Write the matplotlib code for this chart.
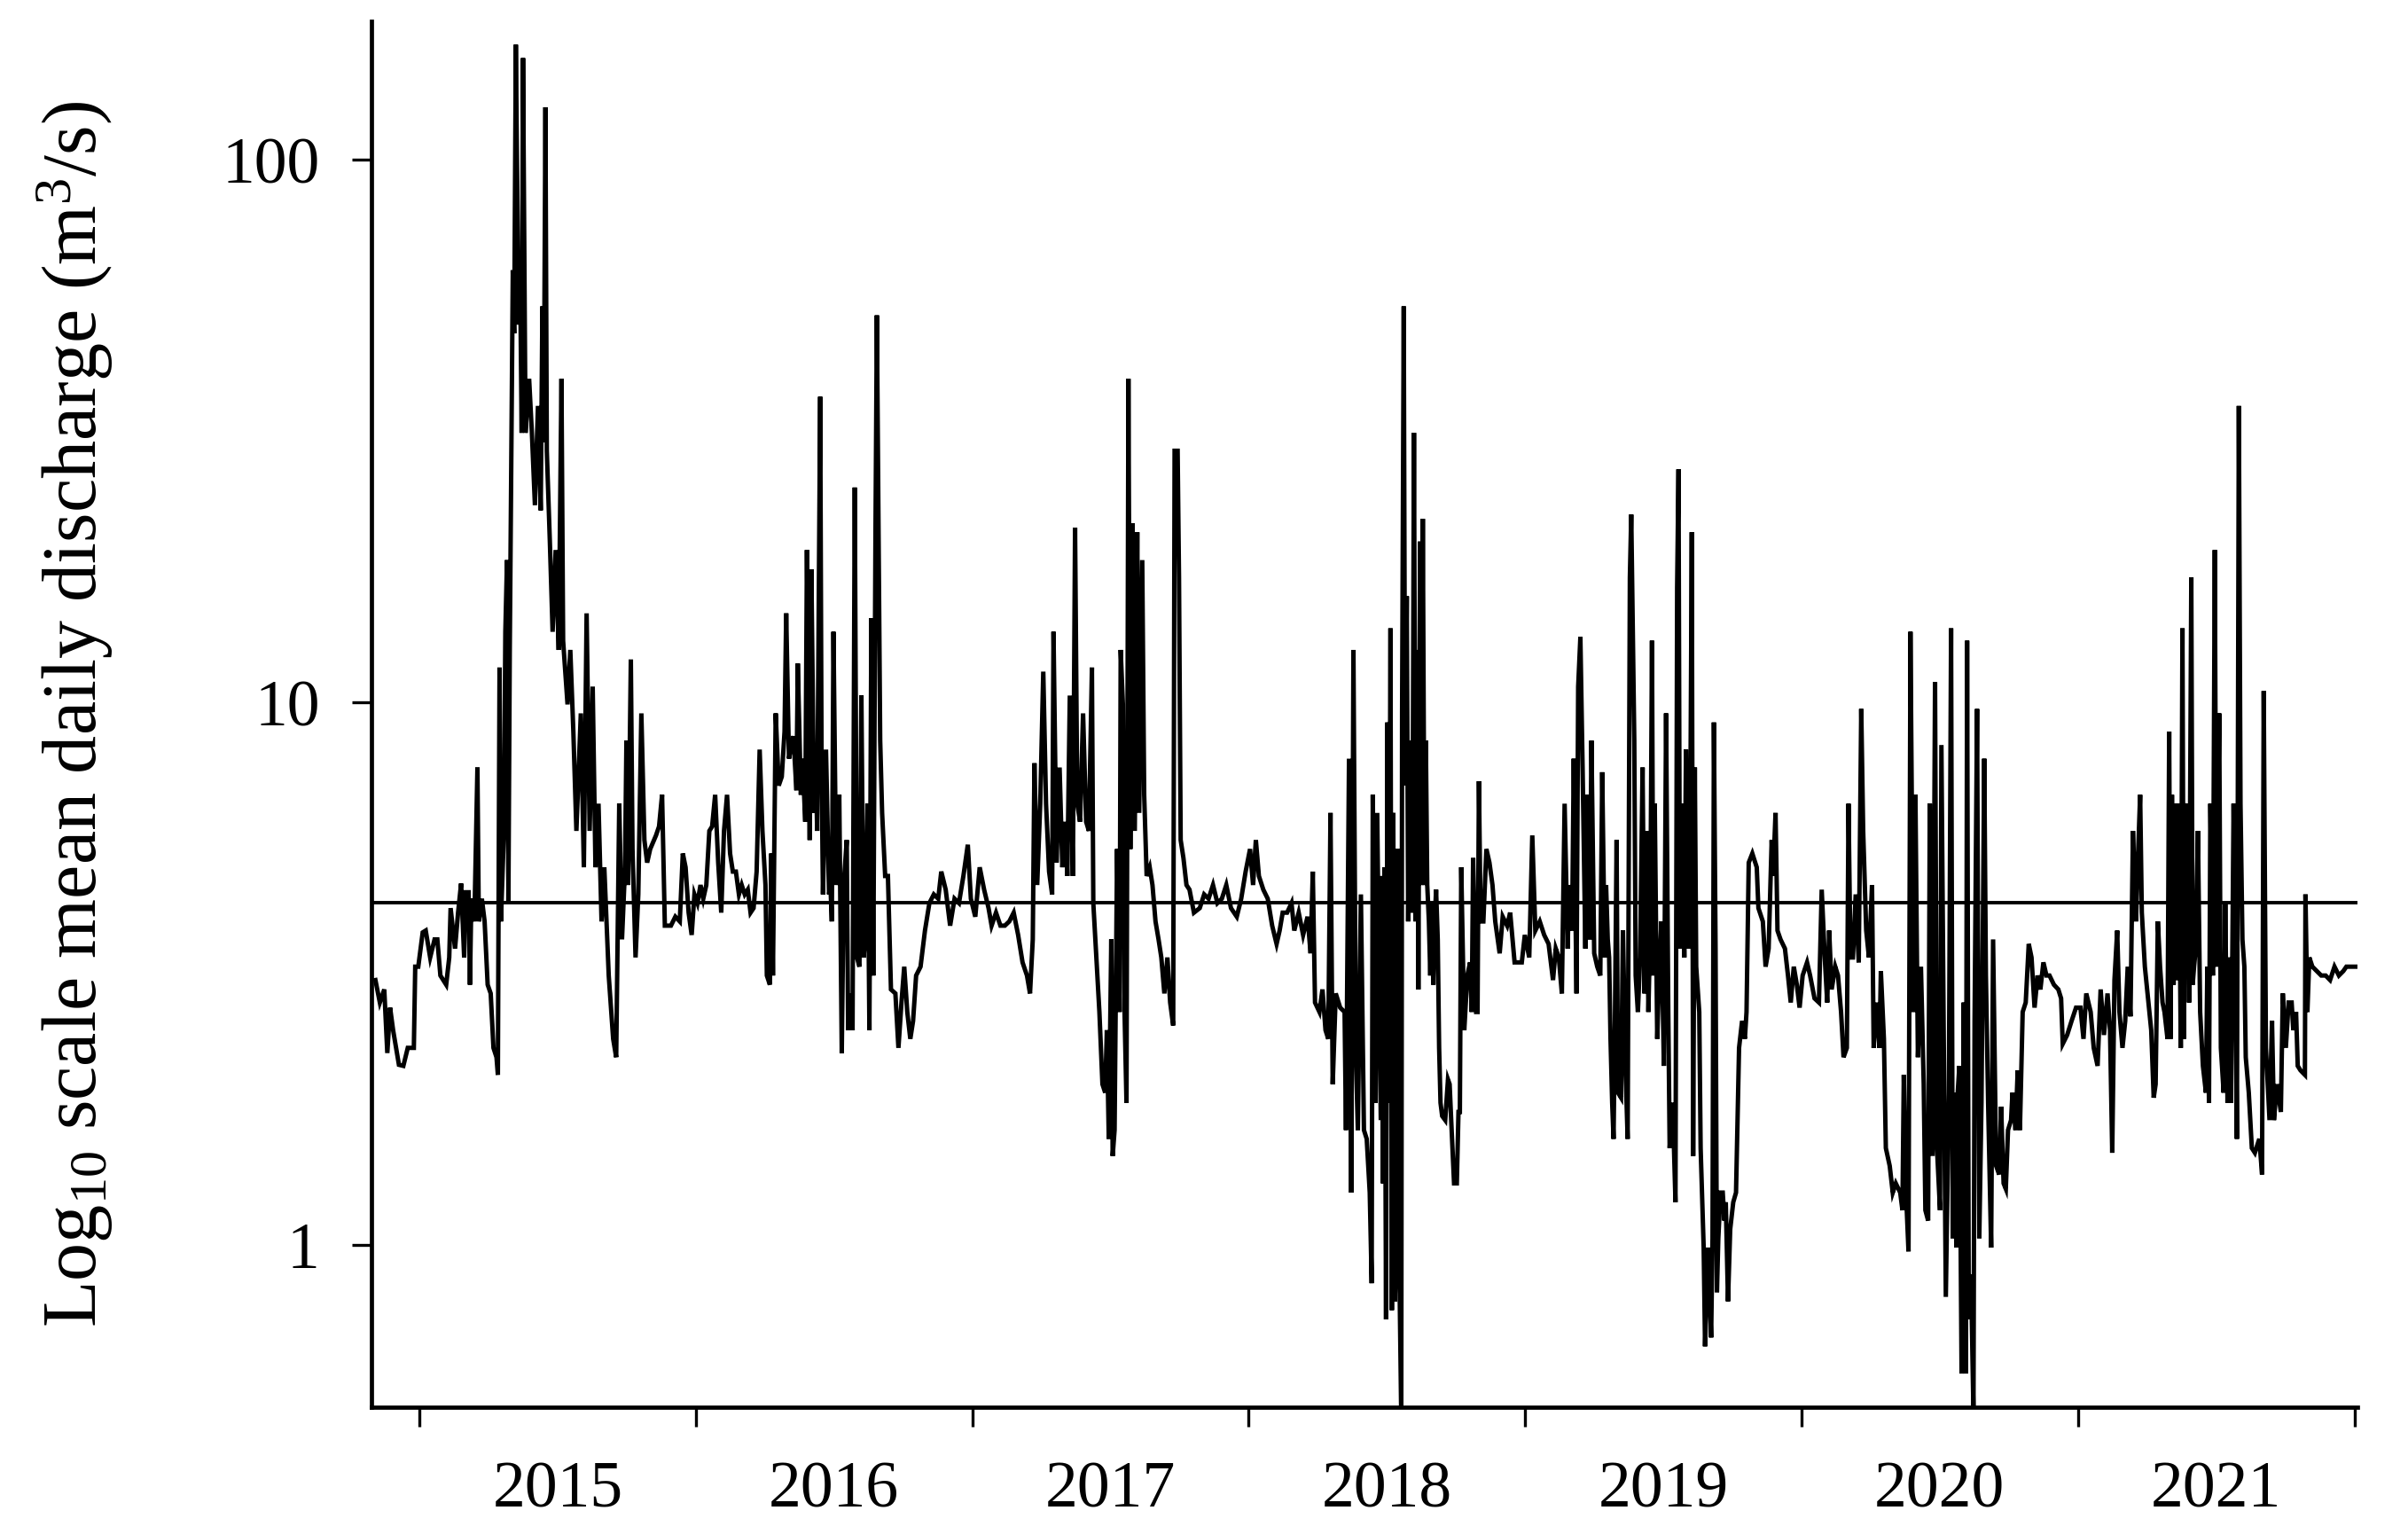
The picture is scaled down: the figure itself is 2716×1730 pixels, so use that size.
import matplotlib

matplotlib.use("Agg")
import matplotlib.pyplot as plt  # noqa: E402
from matplotlib.ticker import NullLocator  # noqa: E402

plt.rcParams["font.family"] = ["Liberation Serif", "DejaVu Serif"]
plt.rcParams["mathtext.fontset"] = "custom"
plt.rcParams["mathtext.rm"] = "Liberation Serif"
plt.rcParams["mathtext.default"] = "regular"

# (decimal year, mean daily discharge m3/s)
daily_flow = [
    (2014.841, 3.08), (2014.857, 2.80), (2014.873, 2.96), (2014.884, 2.26), (2014.894, 2.74),
    (2014.905, 2.49), (2014.926, 2.15), (2014.942, 2.14), (2014.958, 2.31), (2014.980, 2.31),
    (2014.985, 3.26), (2014.996, 3.26), (2015.012, 3.77), (2015.023, 3.80), (2015.039, 3.39),
    (2015.055, 3.66), (2015.065, 3.66), (2015.076, 3.14), (2015.097, 3.02), (2015.108, 3.39),
    (2015.113, 4.18), (2015.129, 3.52), (2015.140, 4.10), (2015.151, 4.64), (2015.162, 3.39),
    (2015.167, 4.47), (2015.178, 4.47), (2015.183, 3.02), (2015.188, 4.35), (2015.199, 3.95),
    (2015.210, 7.59), (2015.215, 3.95), (2015.226, 4.35), (2015.236, 3.95), (2015.247, 3.02),
    (2015.258, 2.91), (2015.268, 2.31), (2015.279, 2.22), (2015.284, 2.06), (2015.290, 11.6),
    (2015.295, 3.95), (2015.306, 5.80), (2015.311, 13.5), (2015.317, 18.3), (2015.322, 4.27),
    (2015.327, 12.5), (2015.338, 62.6), (2015.343, 47.9), (2015.349, 163), (2015.359, 49.7),
    (2015.365, 58.0), (2015.370, 31.4), (2015.375, 154), (2015.384, 31.4), (2015.397, 39.5),
    (2015.407, 31.4), (2015.418, 23.1), (2015.429, 35.2), (2015.439, 22.6), (2015.445, 53.7),
    (2015.450, 30.2), (2015.456, 125), (2015.461, 29.1), (2015.472, 19.8), (2015.482, 13.5),
    (2015.493, 19.1), (2015.504, 12.5), (2015.514, 39.5), (2015.520, 13.0), (2015.536, 9.92),
    (2015.546, 12.5), (2015.557, 8.84), (2015.568, 5.80), (2015.584, 9.55), (2015.595, 4.97),
    (2015.605, 14.6), (2015.616, 5.80), (2015.627, 10.7), (2015.637, 4.97), (2015.648, 6.51),
    (2015.659, 3.95), (2015.669, 4.97), (2015.685, 3.14), (2015.701, 2.40), (2015.712, 2.22),
    (2015.723, 6.51), (2015.733, 3.66), (2015.744, 4.97), (2015.749, 8.51), (2015.755, 4.61),
    (2015.765, 12.0), (2015.771, 5.37), (2015.782, 3.39), (2015.792, 4.43), (2015.803, 9.55),
    (2015.814, 5.58), (2015.824, 5.07), (2015.835, 5.37), (2015.856, 5.69), (2015.867, 5.91),
    (2015.878, 6.76), (2015.888, 3.88), (2015.910, 3.88), (2015.926, 4.03), (2015.942, 3.95),
    (2015.953, 5.27), (2015.963, 4.97), (2015.974, 4.10), (2015.985, 3.73), (2015.995, 4.43),
    (2016.006, 4.27), (2016.017, 4.61), (2016.027, 4.35), (2016.038, 4.61), (2016.049, 5.80),
    (2016.059, 5.91), (2016.070, 6.76), (2016.081, 5.07), (2016.092, 4.10), (2016.102, 5.80),
    (2016.113, 6.76), (2016.124, 5.27), (2016.134, 4.88), (2016.145, 4.88), (2016.156, 4.43),
    (2016.166, 4.61), (2016.177, 4.43), (2016.188, 4.52), (2016.198, 4.10), (2016.209, 4.18),
    (2016.220, 4.88), (2016.231, 8.19), (2016.241, 5.80), (2016.252, 4.61), (2016.257, 3.14),
    (2016.268, 3.02), (2016.273, 5.27), (2016.279, 3.14), (2016.289, 9.55), (2016.300, 7.03),
    (2016.311, 7.30), (2016.321, 8.84), (2016.327, 14.6), (2016.337, 7.88), (2016.343, 8.19),
    (2016.353, 8.67), (2016.364, 6.89), (2016.369, 11.8), (2016.380, 6.76), (2016.386, 7.88),
    (2016.396, 6.03), (2016.402, 19.1), (2016.412, 5.58), (2016.418, 17.6), (2016.428, 6.26),
    (2016.434, 7.88), (2016.439, 5.80), (2016.450, 36.6), (2016.455, 7.59), (2016.460, 4.43),
    (2016.471, 8.19), (2016.482, 4.43), (2016.487, 4.61), (2016.492, 3.95), (2016.498, 13.5),
    (2016.508, 4.61), (2016.519, 6.76), (2016.528, 2.26), (2016.535, 4.61), (2016.546, 5.58),
    (2016.551, 2.49), (2016.562, 2.91), (2016.567, 2.49), (2016.575, 24.9), (2016.583, 3.39),
    (2016.592, 3.26), (2016.599, 10.3), (2016.607, 3.39), (2016.613, 3.66), (2016.621, 6.51),
    (2016.628, 2.49), (2016.635, 14.3), (2016.642, 3.14), (2016.650, 20.6), (2016.655, 51.7),
    (2016.667, 8.51), (2016.674, 6.26), (2016.685, 4.79), (2016.695, 4.79), (2016.706, 2.96),
    (2016.722, 2.91), (2016.733, 2.31), (2016.744, 2.80), (2016.754, 3.26), (2016.765, 2.69),
    (2016.776, 2.40), (2016.786, 2.59), (2016.797, 3.14), (2016.813, 3.26), (2016.829, 3.80),
    (2016.845, 4.27), (2016.861, 4.43), (2016.877, 4.35), (2016.888, 4.88), (2016.904, 4.52),
    (2016.920, 3.88), (2016.936, 4.35), (2016.952, 4.27), (2016.968, 4.79), (2016.984, 5.47),
    (2016.995, 4.35), (2017.011, 4.03), (2017.027, 4.97), (2017.043, 4.52), (2017.059, 4.18),
    (2017.070, 3.88), (2017.086, 4.10), (2017.102, 3.88), (2017.118, 3.88), (2017.134, 3.95),
    (2017.150, 4.10), (2017.166, 3.73), (2017.182, 3.32), (2017.198, 3.14), (2017.209, 2.91),
    (2017.219, 3.66), (2017.225, 7.73), (2017.235, 4.61), (2017.246, 6.51), (2017.257, 11.4),
    (2017.267, 6.51), (2017.278, 4.88), (2017.289, 4.43), (2017.294, 13.5), (2017.305, 5.07),
    (2017.316, 7.59), (2017.326, 4.97), (2017.337, 6.03), (2017.344, 4.79), (2017.353, 10.3),
    (2017.364, 4.79), (2017.372, 21.0), (2017.380, 6.51), (2017.390, 6.03), (2017.401, 9.55),
    (2017.412, 6.03), (2017.422, 5.80), (2017.433, 11.6), (2017.438, 4.27), (2017.449, 3.39),
    (2017.460, 2.69), (2017.471, 1.98), (2017.481, 1.91), (2017.487, 2.49), (2017.494, 1.57),
    (2017.503, 3.66), (2017.508, 1.46), (2017.515, 1.63), (2017.524, 5.37), (2017.533, 2.69),
    (2017.537, 12.5), (2017.545, 9.92), (2017.551, 2.69), (2017.558, 1.83), (2017.565, 39.5),
    (2017.572, 5.37), (2017.580, 21.4), (2017.588, 5.80), (2017.597, 20.6), (2017.604, 6.26),
    (2017.615, 18.3), (2017.622, 6.76), (2017.631, 4.79), (2017.642, 4.97), (2017.652, 4.61),
    (2017.663, 3.95), (2017.674, 3.66), (2017.684, 3.39), (2017.695, 2.91), (2017.706, 3.39),
    (2017.716, 2.80), (2017.727, 2.54), (2017.732, 29.1), (2017.743, 29.1), (2017.748, 17.0),
    (2017.754, 5.58), (2017.764, 5.17), (2017.775, 4.61), (2017.786, 4.52), (2017.802, 4.10),
    (2017.823, 4.18), (2017.839, 4.43), (2017.855, 4.35), (2017.871, 4.61), (2017.887, 4.27),
    (2017.903, 4.35), (2017.919, 4.61), (2017.936, 4.18), (2017.957, 4.03), (2017.973, 4.35),
    (2017.989, 4.88), (2018.005, 5.37), (2018.016, 4.61), (2018.026, 5.58), (2018.037, 4.79),
    (2018.053, 4.52), (2018.069, 4.35), (2018.085, 3.88), (2018.101, 3.59), (2018.112, 3.80),
    (2018.123, 4.10), (2018.139, 4.10), (2018.155, 4.27), (2018.165, 3.80), (2018.181, 4.10),
    (2018.197, 3.73), (2018.213, 4.03), (2018.224, 3.45), (2018.232, 4.88), (2018.240, 2.80),
    (2018.256, 2.69), (2018.267, 2.96), (2018.278, 2.49), (2018.288, 2.40), (2018.296, 6.26),
    (2018.304, 1.98), (2018.315, 2.91), (2018.331, 2.74), (2018.347, 2.69), (2018.352, 1.63),
    (2018.363, 7.88), (2018.371, 1.25), (2018.379, 12.5), (2018.388, 2.22), (2018.395, 1.63),
    (2018.406, 4.43), (2018.417, 1.63), (2018.427, 1.57), (2018.438, 1.25), (2018.445, 0.851),
    (2018.449, 6.76), (2018.459, 1.83), (2018.465, 6.26), (2018.478, 1.70), (2018.484, 4.79),
    (2018.486, 1.30), (2018.491, 4.97), (2018.497, 0.730), (2018.502, 9.19), (2018.507, 1.83),
    (2018.513, 13.7), (2018.518, 0.759), (2018.523, 6.26), (2018.529, 0.788), (2018.534, 1.03),
    (2018.539, 5.37), (2018.545, 0.919), (2018.552, 0.48), (2018.555, 9.55), (2018.561, 53.7),
    (2018.566, 7.03), (2018.572, 15.7), (2018.577, 3.95), (2018.582, 8.51), (2018.588, 4.10),
    (2018.593, 5.80), (2018.598, 31.4), (2018.604, 3.95), (2018.609, 12.5), (2018.614, 2.96),
    (2018.620, 19.8), (2018.625, 4.61), (2018.630, 21.8), (2018.636, 4.61), (2018.641, 8.51),
    (2018.646, 4.61), (2018.652, 3.95), (2018.657, 3.14), (2018.662, 4.27), (2018.668, 3.02),
    (2018.673, 3.95), (2018.678, 4.52), (2018.684, 3.66), (2018.689, 2.31), (2018.694, 1.83),
    (2018.700, 1.73), (2018.711, 1.70), (2018.721, 2.02), (2018.727, 1.98), (2018.732, 1.73),
    (2018.743, 1.30), (2018.753, 1.30), (2018.759, 1.76), (2018.764, 1.76), (2018.769, 4.97),
    (2018.775, 3.39), (2018.780, 2.49), (2018.791, 3.14), (2018.801, 3.32), (2018.807, 2.69),
    (2018.812, 5.17), (2018.823, 2.69), (2018.828, 2.69), (2018.833, 7.16), (2018.839, 3.95),
    (2018.849, 3.95), (2018.860, 5.37), (2018.871, 5.07), (2018.882, 4.61), (2018.892, 3.95),
    (2018.908, 3.45), (2018.919, 4.03), (2018.935, 3.88), (2018.946, 4.10), (2018.962, 3.32),
    (2018.978, 3.32), (2018.988, 3.32), (2018.999, 3.73), (2019.015, 3.39), (2019.026, 5.69),
    (2019.037, 3.80), (2019.053, 3.95), (2019.069, 3.73), (2019.085, 3.59), (2019.101, 3.08),
    (2019.111, 3.52), (2019.122, 3.39), (2019.133, 2.91), (2019.143, 6.51), (2019.154, 3.52),
    (2019.159, 4.61), (2019.170, 3.80), (2019.176, 7.88), (2019.181, 4.61), (2019.186, 2.91),
    (2019.192, 10.7), (2019.200, 13.2), (2019.208, 7.59), (2019.218, 3.52), (2019.224, 6.76),
    (2019.234, 3.66), (2019.240, 8.51), (2019.250, 3.45), (2019.261, 3.26), (2019.272, 3.14),
    (2019.279, 7.44), (2019.288, 3.39), (2019.293, 4.61), (2019.299, 3.66), (2019.304, 3.39),
    (2019.309, 2.40), (2019.315, 1.83), (2019.320, 1.57), (2019.325, 2.59), (2019.331, 5.58),
    (2019.336, 1.91), (2019.347, 1.87), (2019.354, 3.80), (2019.363, 2.14), (2019.371, 1.57),
    (2019.379, 17.0), (2019.384, 22.2), (2019.395, 8.51), (2019.400, 3.14), (2019.408, 2.69),
    (2019.416, 3.39), (2019.425, 7.59), (2019.432, 2.91), (2019.440, 5.80), (2019.446, 2.69),
    (2019.453, 3.95), (2019.459, 13.0), (2019.464, 3.14), (2019.469, 6.51), (2019.478, 2.40),
    (2019.485, 3.14), (2019.493, 3.95), (2019.502, 2.14), (2019.510, 9.55), (2019.518, 2.69),
    (2019.523, 1.51), (2019.534, 1.83), (2019.544, 1.20), (2019.550, 16.3), (2019.555, 26.9),
    (2019.560, 3.52), (2019.566, 6.51), (2019.576, 3.39), (2019.582, 8.19), (2019.592, 3.52),
    (2019.598, 6.76), (2019.603, 20.6), (2019.608, 1.46), (2019.614, 7.59), (2019.619, 3.26),
    (2019.630, 2.69), (2019.635, 1.51), (2019.646, 0.99), (2019.651, 0.651), (2019.662, 0.99),
    (2019.673, 0.676), (2019.678, 1.03), (2019.683, 9.19), (2019.689, 3.52), (2019.694, 0.819),
    (2019.699, 1.03), (2019.707, 1.25), (2019.715, 1.25), (2019.721, 1.11), (2019.726, 1.20),
    (2019.734, 0.788), (2019.742, 1.07), (2019.753, 1.20), (2019.763, 1.25), (2019.774, 2.31),
    (2019.785, 2.59), (2019.795, 2.40), (2019.801, 2.69), (2019.809, 5.07), (2019.822, 5.27),
    (2019.838, 4.97), (2019.844, 4.18), (2019.860, 3.95), (2019.870, 3.26), (2019.881, 3.52),
    (2019.892, 5.58), (2019.897, 4.79), (2019.906, 6.26), (2019.913, 3.80), (2019.924, 3.66),
    (2019.940, 3.52), (2019.951, 3.14), (2019.961, 2.80), (2019.972, 3.26), (2019.983, 3.02),
    (2019.993, 2.74), (2020.004, 3.14), (2020.020, 3.32), (2020.031, 3.14), (2020.047, 2.85),
    (2020.063, 2.80), (2020.073, 4.52), (2020.084, 3.39), (2020.093, 2.80), (2020.100, 3.80),
    (2020.109, 2.96), (2020.122, 3.26), (2020.132, 3.14), (2020.143, 2.69), (2020.152, 2.22),
    (2020.164, 2.31), (2020.170, 6.51), (2020.177, 3.39), (2020.186, 3.39), (2020.196, 4.43),
    (2020.207, 3.32), (2020.216, 9.73), (2020.223, 5.80), (2020.234, 3.80), (2020.244, 3.39),
    (2020.255, 4.61), (2020.261, 2.31), (2020.271, 2.80), (2020.282, 2.31), (2020.287, 3.20),
    (2020.298, 2.40), (2020.305, 1.51), (2020.319, 1.40), (2020.330, 1.25), (2020.341, 1.30),
    (2020.357, 1.25), (2020.365, 1.16), (2020.370, 2.06), (2020.378, 1.25), (2020.387, 0.974),
    (2020.394, 13.5), (2020.405, 2.69), (2020.412, 6.76), (2020.421, 2.22), (2020.432, 3.26),
    (2020.442, 1.98), (2020.448, 1.16), (2020.458, 1.11), (2020.464, 6.51), (2020.474, 1.46),
    (2020.483, 10.9), (2020.490, 1.51), (2020.501, 1.16), (2020.506, 8.35), (2020.515, 2.22),
    (2020.522, 0.803), (2020.533, 1.91), (2020.541, 13.7), (2020.547, 1.03), (2020.554, 1.91),
    (2020.560, 0.99), (2020.565, 1.91), (2020.571, 2.14), (2020.579, 0.580), (2020.587, 2.80),
    (2020.594, 0.580), (2020.599, 13.0), (2020.605, 0.730), (2020.613, 0.884), (2020.622, 0.49),
    (2020.626, 2.59), (2020.635, 9.73), (2020.643, 1.03), (2020.651, 1.83), (2020.661, 7.88),
    (2020.667, 3.14), (2020.675, 1.83), (2020.686, 0.99), (2020.693, 3.66), (2020.704, 1.40),
    (2020.715, 1.35), (2020.722, 1.80), (2020.731, 1.30), (2020.739, 1.27), (2020.747, 1.63),
    (2020.758, 1.70), (2020.763, 1.91), (2020.774, 1.63), (2020.782, 2.10), (2020.790, 1.63),
    (2020.800, 2.69), (2020.811, 2.80), (2020.822, 3.59), (2020.832, 3.39), (2020.843, 2.74),
    (2020.854, 3.14), (2020.864, 2.96), (2020.875, 3.32), (2020.886, 3.14), (2020.897, 3.14),
    (2020.913, 3.02), (2020.929, 2.96), (2020.939, 2.85), (2020.945, 2.35), (2020.961, 2.44),
    (2020.977, 2.59), (2020.993, 2.74), (2021.009, 2.74), (2021.020, 2.40), (2021.030, 2.91),
    (2021.046, 2.69), (2021.057, 2.31), (2021.071, 2.14), (2021.082, 2.96), (2021.094, 2.44),
    (2021.107, 2.91), (2021.116, 2.49), (2021.124, 1.48), (2021.132, 3.08), (2021.142, 3.80),
    (2021.150, 2.69), (2021.161, 2.31), (2021.171, 2.59), (2021.180, 3.26), (2021.190, 2.64),
    (2021.199, 5.80), (2021.210, 3.95), (2021.217, 5.17), (2021.225, 6.76), (2021.231, 4.10),
    (2021.242, 3.26), (2021.255, 2.80), (2021.265, 2.49), (2021.274, 1.87), (2021.281, 1.98),
    (2021.289, 3.95), (2021.297, 3.26), (2021.306, 2.80), (2021.313, 2.69), (2021.324, 2.40),
    (2021.330, 8.84), (2021.335, 2.40), (2021.340, 6.76), (2021.346, 3.02), (2021.351, 6.51),
    (2021.359, 3.08), (2021.364, 6.51), (2021.372, 2.31), (2021.378, 13.7), (2021.383, 2.40),
    (2021.388, 6.26), (2021.396, 6.51), (2021.402, 2.80), (2021.410, 17.0), (2021.415, 3.02),
    (2021.420, 3.26), (2021.426, 3.52), (2021.434, 5.80), (2021.442, 2.69), (2021.452, 2.14),
    (2021.463, 1.91), (2021.468, 3.26), (2021.474, 1.83), (2021.479, 6.51), (2021.488, 3.14),
    (2021.495, 19.1), (2021.501, 3.26), (2021.511, 9.55), (2021.517, 2.31), (2021.527, 1.91),
    (2021.533, 4.27), (2021.541, 1.83), (2021.549, 3.39), (2021.554, 1.83), (2021.563, 6.51),
    (2021.570, 3.14), (2021.575, 1.57), (2021.582, 35.2), (2021.588, 6.51), (2021.595, 3.66),
    (2021.602, 3.26), (2021.607, 2.22), (2021.618, 1.91), (2021.629, 1.51), (2021.640, 1.48),
    (2021.656, 1.57), (2021.666, 1.35), (2021.672, 10.5), (2021.680, 2.31), (2021.693, 1.70),
    (2021.702, 2.59), (2021.709, 1.70), (2021.720, 1.98), (2021.734, 1.76), (2021.741, 2.91),
    (2021.752, 2.31), (2021.762, 2.80), (2021.773, 2.80), (2021.779, 2.49), (2021.789, 2.69),
    (2021.795, 2.14), (2021.805, 2.10), (2021.821, 2.06), (2021.823, 4.43), (2021.830, 2.69),
    (2021.837, 3.39), (2021.848, 3.26), (2021.864, 3.20), (2021.880, 3.14), (2021.896, 3.14),
    (2021.912, 3.08), (2021.928, 3.26), (2021.944, 3.14), (2021.960, 3.20), (2021.971, 3.26),
    (2021.987, 3.26), (2022.003, 3.26),
]

median_q = 4.27
years = [2015, 2016, 2017, 2018, 2019, 2020, 2021]
y_ticks = [1, 10, 100]

t = [p[0] for p in daily_flow]
q = [p[1] for p in daily_flow]

fig = plt.figure(figsize=(27.16, 17.30), dpi=100)
ax = fig.add_axes([0.1543, 0.0827, 0.8247, 0.9034])

ax.plot(t, q, color="black", lw=3.6, solid_joinstyle="miter")
ax.axhline(median_q, color="black", lw=2.8)

ax.set_yscale("log")
ax.set_ylim(0.503, 180)
ax.set_xlim(2014.827, 2022.011)

ax.set_yticks(y_ticks)
ax.set_yticklabels([str(v) for v in y_ticks])
ax.yaxis.set_minor_locator(NullLocator())

# year boundaries get tick marks, labels sit mid-year
ax.set_xticks(list(range(years[0], years[-1] + 2)))
ax.set_xticklabels([])
ax.set_xticks([y + 0.5 for y in years], minor=True)
ax.set_xticklabels([str(y) for y in years], minor=True)

for side in ("top", "right"):
    ax.spines[side].set_visible(False)
for side in ("left", "bottom"):
    ax.spines[side].set_linewidth(3.4)

ax.tick_params(axis="both", which="major", direction="out", length=16, width=2.4,
               labelsize=53)
ax.tick_params(axis="y", pad=26)
ax.tick_params(axis="x", which="minor", length=0, pad=44, labelsize=53)

ax.set_ylabel(r"Log$_{10}$ scale mean daily discharge (m$^{3}$/s)", fontsize=62)
ax.yaxis.set_label_coords(-0.129, 0.5)

fig.savefig("out.png", dpi=100)
